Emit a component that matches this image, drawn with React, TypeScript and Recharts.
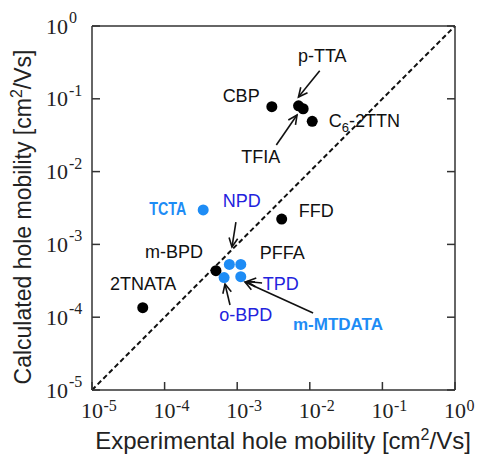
import React from 'react';
import { ScatterChart, Scatter, XAxis, YAxis, ReferenceLine, ReferenceDot } from 'recharts';

// measured mobilities [cm2/Vs]
const blackNames = ['2TNATA', 'm-BPD', 'FFD', 'CBP', 'p-TTA', 'TFIA', 'C6-2TTN'];
const blackExp = [5.0e-5, 5.1e-4, 4.1e-3, 3.0e-3, 7.0e-3, 8.1e-3, 1.08e-2];
const blackCalc = [1.35e-4, 4.35e-4, 2.23e-3, 7.8e-2, 8.0e-2, 7.3e-2, 4.9e-2];

const blueNames = ['TCTA', 'NPD', 'PFFA', 'o-BPD', 'TPD'];
const blueExp = [3.4e-4, 7.8e-4, 1.12e-3, 6.6e-4, 1.12e-3];
const blueCalc = [2.97e-3, 5.3e-4, 5.3e-4, 3.5e-4, 3.6e-4];

const decadeTicks = [1e-5, 1e-4, 1e-3, 1e-2, 1e-1, 1];

const blackData = blackNames.map((name, i) => ({ name, exp: blackExp[i], calc: blackCalc[i] }));
const blueData = blueNames.map((name, i) => ({ name, exp: blueExp[i], calc: blueCalc[i] }));

const SANS = '"Liberation Sans", Arial, sans-serif';
const SERIF = '"Liberation Serif", "Times New Roman", serif';
const BLUE = '#1e8cf5';
const DARK_BLUE = '#2222dd';
const AXIS = '#333';

// text annotations, anchored at the left baseline (data coords)
const labels = [
  { text: 'CBP', x: 6.3e-4, y: 0.0912, color: '#111' },
  { text: 'p-TTA', x: 6.87e-3, y: 0.324, color: '#111' },
  { text: 'TFIA', x: 1.14e-3, y: 0.013, color: '#111' },
  { text: 'C6-2TTN', x: 0.0182, y: 0.0414, color: '#111' },
  { text: 'FFD', x: 7.03e-3, y: 2.4e-3, color: '#111' },
  { text: 'TCTA', x: 6.15e-5, y: 2.54e-3, color: BLUE, bold: true, len: 37 },
  { text: 'NPD', x: 6.31e-4, y: 3.24e-3, color: DARK_BLUE },
  { text: 'm-BPD', x: 5.37e-5, y: 6.44e-4, color: '#111' },
  { text: 'PFFA', x: 2.04e-3, y: 6.23e-4, color: '#111' },
  { text: '2TNATA', x: 1.77e-5, y: 2.37e-4, color: '#111' },
  { text: 'TPD', x: 2.25e-3, y: 2.37e-4, color: DARK_BLUE },
  { text: 'o-BPD', x: 5.66e-4, y: 8.95e-5, color: DARK_BLUE },
  { text: 'm-MTDATA', x: 5.87e-3, y: 6.67e-5, color: BLUE, bold: true },
];

// arrows: tail -> head (data coords)
const arrows = [
  { from: { x: 0.0137, y: 0.243 }, to: { x: 6.98e-3, y: 0.106 } },
  { from: { x: 3.46e-3, y: 0.0232 }, to: { x: 6.67e-3, y: 0.0598 } },
  { from: { x: 9.6e-4, y: 2.03e-3 }, to: { x: 8.47e-4, y: 9.2e-4 } },
  { from: { x: 7.96e-4, y: 1.47e-4 }, to: { x: 6.79e-4, y: 2.86e-4 } },
  { from: { x: 2.2e-3, y: 2.95e-4 }, to: { x: 1.36e-3, y: 3.09e-4 } },
  { from: { x: 0.0111, y: 1.14e-4 }, to: { x: 1.28e-3, y: 3.05e-4 } },
];

const expOf = (v: number) => String(Math.round(Math.log10(v)));

const BottomTick = (props: any) => {
  const { x, y, payload } = props;
  return (
    <g>
      <line x1={x} y1={y} x2={x} y2={y - 8} stroke={AXIS} strokeWidth={1.5} />
      <text x={x} y={y + 28} textAnchor="middle" fontFamily={SERIF} fontSize={22} fill="#222">10</text>
      <text x={x + 11.5} y={y + 21} fontFamily={SERIF} fontSize={16} fill="#222">{expOf(payload.value)}</text>
    </g>
  );
};

const LeftTick = (props: any) => {
  const { x, y, payload } = props;
  return (
    <g>
      <line x1={x} y1={y} x2={x + 8} y2={y} stroke={AXIS} strokeWidth={1.5} />
      <text x={x - 24} y={y + 7.5} textAnchor="end" fontFamily={SERIF} fontSize={22} fill="#222">10</text>
      <text x={x - 23} y={y - 3} fontFamily={SERIF} fontSize={16} fill="#222">{expOf(payload.value)}</text>
    </g>
  );
};

const TopTick = (props: any) => (
  <line x1={props.x} y1={props.y} x2={props.x} y2={props.y + 8} stroke={AXIS} strokeWidth={1.5} />
);

const RightTick = (props: any) => (
  <line x1={props.x} y1={props.y} x2={props.x - 8} y2={props.y} stroke={AXIS} strokeWidth={1.5} />
);

const Arrow = (props: any) => {
  const { x1, y1, x2, y2 } = props;
  const a = Math.atan2(y2 - y1, x2 - x1);
  const L = 10;
  const s = 0.45;
  return (
    <g stroke="#111" strokeWidth={1.6} fill="none">
      <line x1={x1} y1={y1} x2={x2} y2={y2} />
      <polyline
        points={`${x2 - L * Math.cos(a - s)},${y2 - L * Math.sin(a - s)} ${x2},${y2} ${x2 - L * Math.cos(a + s)},${y2 - L * Math.sin(a + s)}`}
      />
    </g>
  );
};

const renderLabel = (lb: any) => (p: any) => {
  if (lb.text === 'C6-2TTN') {
    return (
      <text x={p.cx} y={p.cy} fontFamily={SANS} fontSize={18} fill={lb.color}>
        C<tspan dy={5} fontSize={13}>6</tspan>
        <tspan dy={-5}>-2TTN</tspan>
      </text>
    );
  }
  return (
    <text
      x={p.cx}
      y={p.cy}
      fontFamily={SANS}
      fontSize={lb.len ? 19 : lb.bold ? 17 : 18}
      fontWeight={lb.bold ? 700 : 400}
      fill={lb.color}
      textLength={lb.len}
      lengthAdjust={lb.len ? 'spacingAndGlyphs' : undefined}
    >
      {lb.text}
    </text>
  );
};

const dot = (color: string) => (p: any) => <circle cx={p.cx} cy={p.cy} r={5.5} fill={color} />;

const axisCommon = {
  type: 'number' as const,
  scale: 'log' as const,
  domain: [1e-5, 1] as [number, number],
  allowDataOverflow: true,
  ticks: decadeTicks,
  interval: 0 as const,
  tickSize: 0,
  tickMargin: 0,
  tickLine: false,
  axisLine: { stroke: AXIS, strokeWidth: 1.5 },
};

export default function App() {
  return (
    <div style={{ position: 'absolute', left: 0, top: 0, width: 478, height: 454, background: '#fff' }}>
      <ScatterChart width={478} height={454} margin={{ top: 25, right: 22, bottom: 63, left: 91 }}>
        <XAxis
          {...axisCommon}
          xAxisId="b"
          dataKey="exp"
          height={1}
          tick={<BottomTick />}
          label={{
            content: () => (
              <text x={283} y={449} textAnchor="middle" fontFamily={SANS} fontSize={24} fill="#222">
                Experimental hole mobility [cm<tspan dy={-9} fontSize={16}>2</tspan>
                <tspan dy={9}>/Vs]</tspan>
              </text>
            ),
          }}
        />
        <XAxis {...axisCommon} xAxisId="t" orientation="top" height={1} tick={<TopTick />} />
        <YAxis
          {...axisCommon}
          yAxisId="l"
          dataKey="calc"
          width={1}
          tick={<LeftTick />}
          label={{
            content: () => (
              <text
                transform="translate(31,217) rotate(-90)"
                textAnchor="middle"
                fontFamily={SANS}
                fontSize={23}
                fill="#222"
              >
                Calculated hole mobility [cm<tspan dy={-9} fontSize={16}>2</tspan>
                <tspan dy={9}>/Vs]</tspan>
              </text>
            ),
          }}
        />
        <YAxis {...axisCommon} yAxisId="r" orientation="right" width={1} tick={<RightTick />} />
        <ReferenceLine
          xAxisId="b"
          yAxisId="l"
          segment={[{ x: 1e-5, y: 1e-5 }, { x: 1, y: 1 }]}
          stroke="#111"
          strokeWidth={2}
          strokeDasharray="5 3"
        />
        {arrows.map((a, i) => (
          <ReferenceLine key={'a' + i} xAxisId="b" yAxisId="l" segment={[a.from, a.to]} shape={Arrow} />
        ))}
        <Scatter xAxisId="b" yAxisId="l" data={blackData} shape={dot('#000')} isAnimationActive={false} />
        <Scatter xAxisId="b" yAxisId="l" data={blueData} shape={dot(BLUE)} isAnimationActive={false} />
        <Scatter xAxisId="t" yAxisId="r" data={blueData} dataKey="calc" shape={() => null} isAnimationActive={false} />
        {labels.map((lb, i) => (
          <ReferenceDot key={'l' + i} xAxisId="b" yAxisId="l" x={lb.x} y={lb.y} r={0} shape={renderLabel(lb)} />
        ))}
      </ScatterChart>
    </div>
  );
}
